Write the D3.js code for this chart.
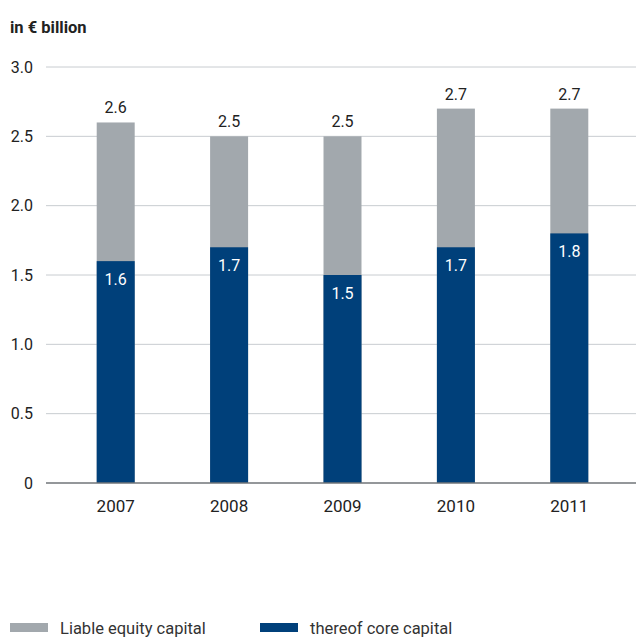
<!DOCTYPE html>
<html>
<head>
<meta charset="utf-8">
<script src="https://cdn.jsdelivr.net/npm/d3@7"></script>
<style>
  html, body { margin: 0; padding: 0; background: #fff; }
  svg { display: block; font-family: Roboto, "Liberation Sans", sans-serif; }
</style>
</head>
<body>
<svg id="chart" width="636" height="637"></svg>
<script>
// Liable equity capital and the core-capital share, in € billion
const years = ["2007", "2008", "2009", "2010", "2011"];
const liableEquity = [2.6, 2.5, 2.5, 2.7, 2.7];
const coreCapital = [1.6, 1.7, 1.5, 1.7, 1.8];
const yTicks = [0, 0.5, 1.0, 1.5, 2.0, 2.5, 3.0];
const seriesNames = ["Liable equity capital", "thereof core capital"];

const grey = "#a2a8ad";
const blue = "#00407a";

const svg = d3.select("#chart");

const y = d3.scaleLinear().domain([0, 3]).range([483, 67]);
const x = d3.scaleBand().domain(years).range([59, 626]).padding(0);
const barW = x.bandwidth() * 0.335;
const fmt = d3.format(".1f");

// horizontal grid lines
svg.append("g")
  .selectAll("line")
  .data(yTicks.filter(d => d > 0))
  .join("line")
  .attr("x1", 46).attr("x2", 636)
  .attr("y1", d => y(d)).attr("y2", d => y(d))
  .attr("stroke", "#c8ccd0").attr("stroke-width", 1);

// y tick labels
svg.append("g")
  .selectAll("text")
  .data(yTicks)
  .join("text")
  .attr("x", 33).attr("y", d => y(d) + 5.5)
  .attr("text-anchor", "end")
  .attr("font-size", 16).attr("fill", "#222")
  .text(d => d === 0 ? "0" : fmt(d));

// unit label
svg.append("text")
  .attr("x", 10).attr("y", 33)
  .attr("font-size", 16.5).attr("font-weight", "bold").attr("fill", "#222")
  .text("in € billion");

const bars = svg.append("g");
years.forEach((yr, i) => {
  const cx = x(yr) + x.bandwidth() / 2;
  // total liable equity
  bars.append("rect")
    .attr("x", cx - barW / 2).attr("width", barW)
    .attr("y", y(liableEquity[i])).attr("height", y(0) - y(liableEquity[i]))
    .attr("fill", grey);
  // core capital portion
  bars.append("rect")
    .attr("x", cx - barW / 2).attr("width", barW)
    .attr("y", y(coreCapital[i])).attr("height", y(0) - y(coreCapital[i]))
    .attr("fill", blue);
  // value labels
  bars.append("text")
    .attr("x", cx).attr("y", y(liableEquity[i]) - 9)
    .attr("text-anchor", "middle").attr("font-size", 16).attr("fill", "#222")
    .text(fmt(liableEquity[i]));
  bars.append("text")
    .attr("x", cx).attr("y", y(coreCapital[i]) + 24)
    .attr("text-anchor", "middle").attr("font-size", 16).attr("fill", "#fff")
    .text(fmt(coreCapital[i]));
});

// baseline
svg.append("line")
  .attr("x1", 46).attr("x2", 636)
  .attr("y1", y(0)).attr("y2", y(0))
  .attr("stroke", "#707579").attr("stroke-width", 1.5);

// x axis labels
svg.append("g")
  .selectAll("text")
  .data(years)
  .join("text")
  .attr("x", d => x(d) + x.bandwidth() / 2)
  .attr("y", 512)
  .attr("text-anchor", "middle").attr("font-size", 17).attr("fill", "#222")
  .text(d => d);

// legend
const legend = svg.append("g");
const legendItems = [
  { name: seriesNames[0], color: grey, x: 10 },
  { name: seriesNames[1], color: blue, x: 260 }
];
legendItems.forEach(it => {
  legend.append("rect")
    .attr("x", it.x).attr("y", 623).attr("width", 38).attr("height", 9)
    .attr("fill", it.color);
  legend.append("text")
    .attr("x", it.x + 50).attr("y", 634)
    .attr("font-size", 16.5).attr("fill", "#333")
    .text(it.name);
});
</script>
</body>
</html>
